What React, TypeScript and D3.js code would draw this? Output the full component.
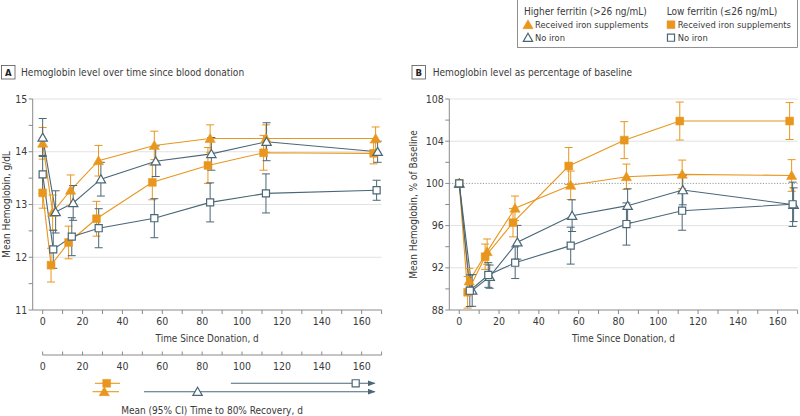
import React from "react";
import * as d3 from "d3";

// ---------- data ----------
const hfIronDays = [0, 5, 14, 28, 56, 84, 112, 167];
const hfNoIronDays = [0, 6.5, 15.3, 29.2, 56.7, 84.6, 112.3, 168];
const lfIronDays = [0, 4.2, 13, 27, 55, 82.9, 110.8, 166];
const lfNoIronDays = [0, 5.3, 14.6, 28.1, 56, 84, 112, 167.5];

// Panel A: hemoglobin g/dL (mean, half-width of 95% CI)
const aHfIron = [14.16, 12.85, 13.27, 13.83, 14.12, 14.25, 14.25, 14.25];
const aHfIronCi = [0.3, 0.33, 0.29, 0.29, 0.27, 0.26, 0.26, 0.22];
const aHfNoIron = [14.27, 12.86, 13.03, 13.48, 13.82, 13.96, 14.19, 14.0];
const aHfNoIronCi = [0.36, 0.4, 0.33, 0.32, 0.29, 0.31, 0.36, 0.2];
const aLfIron = [13.22, 11.85, 12.28, 12.73, 13.42, 13.74, 13.98, 13.97];
const aLfIronCi = [0.29, 0.32, 0.31, 0.33, 0.33, 0.34, 0.33, 0.2];
const aLfNoIron = [13.57, 12.15, 12.39, 12.55, 12.74, 13.04, 13.21, 13.27];
const aLfNoIronCi = [0.36, 0.36, 0.36, 0.37, 0.37, 0.37, 0.37, 0.19];

// Panel B: % of baseline
const bHfIron = [100, 90.75, 93.53, 97.64, 99.82, 100.63, 100.86, 100.75];
const bHfIronCi = [0, 1.2, 1.2, 1.16, 1.35, 1.2, 1.35, 1.5];
const bHfNoIron = [100, 89.85, 91.16, 94.42, 96.94, 97.89, 99.37, 97.98];
const bHfNoIronCi = [0, 1.5, 1.1, 1.6, 1.5, 1.6, 1.4, 1.6];
const bLfIron = [100, 89.68, 93.05, 96.28, 101.65, 104.1, 105.91, 105.91];
const bLfIronCi = [0, 1.5, 1.2, 1.35, 1.75, 1.75, 1.8, 1.75];
const bLfNoIron = [100, 89.83, 91.32, 92.48, 94.1, 96.15, 97.41, 98.02];
const bLfNoIronCi = [0, 1.5, 1.17, 1.5, 1.75, 2.0, 1.85, 2.1];

// Time to 80% recovery: [mean, lower, upper]
const recLfIron = [32.1, 26.2, 38.8];
const recHfIron = [30.9, 25, 38.3];
const recLfNoIron = [157, 94.4, 166.5];
const recHfNoIron = [77.7, 50.8, 166.5];

const xTicksMajor = [0, 20, 40, 60, 80, 100, 120, 140, 160];
const xTicksMinor = [0, 10, 20, 30, 40, 50, 60, 70, 80, 90, 100, 110, 120, 130, 140, 150, 160, 170];
const aYMajor = [11, 12, 13, 14, 15];
const aYMinor = [11.5, 12.5, 13.5, 14.5];
const bYMajor = [88, 92, 96, 100, 104, 108];
const bYMinor = [90, 94, 98, 102, 106];

const ORANGE = "#E8961E";
const BLUE = "#4A6777";
const FONT = "'Liberation Sans Narrow','DejaVu Sans Condensed',Roboto,'Noto Sans',sans-serif";
const TXT = "#3a3a3a";
const AX = "#8a8a8a";

type Series = { days: number[]; vals: number[]; ci: number[]; color: string; shape: "tri" | "sq"; filled: boolean };

function Marker({ x, y, shape, filled, color }: { x: number; y: number; shape: string; filled: boolean; color: string }) {
  const sym = shape === "tri" ? d3.symbol(d3.symbolTriangle, filled ? 46 : 38) : d3.symbol(d3.symbolSquare, filled ? 62 : 50);
  const dy = shape === "tri" ? 1 : 0;
  return (
    <path
      d={sym() as string}
      transform={`translate(${x},${y + dy})`}
      fill={filled ? color : "#fff"}
      stroke={color}
      strokeWidth={filled ? 0.5 : 1.2}
    />
  );
}

function Panel({
  x0, x1, yDomain, yMajor, yMinor, series, dotted, yTitle, label, title, labelX, titleX, labelMid, fmt,
}: {
  x0: number; x1: number; yDomain: [number, number]; yMajor: number[]; yMinor: number[]; series: Series[];
  dotted?: number; yTitle: string; label: string; title: string; labelX: number; titleX: number; labelMid: number; fmt: (v: number) => string;
}) {
  const x = d3.scaleLinear().domain([-5, 170]).range([x0, x1]);
  const y = d3.scaleLinear().domain(yDomain).range([310, 99]);
  const line = d3.line<[number, number]>().x((d) => x(d[0])).y((d) => y(d[1]));
  return (
    <g>
      {/* panel label */}
      <rect x={labelX} y={65.5} width={13.5} height={13.5} fill="#fff" stroke="#555" strokeWidth={0.8} />
      <text x={labelX + 6.75} y={75.8} textAnchor="middle" fontSize={9.5} fontWeight="bold" fill="#222" fontFamily={FONT}>{label}</text>
      <text x={titleX} y={75.8} fontSize={10.1} fill={TXT} fontFamily={FONT}>{title}</text>
      {/* gridlines */}
      {yMajor.filter((v) => v !== yDomain[0] && v !== dotted).map((v) => (
        <line key={"g" + v} x1={x(-5)} x2={x(170)} y1={y(v)} y2={y(v)} stroke="#e2e2e2" strokeWidth={1} />
      ))}
      {dotted !== undefined && (
        <line x1={x(-5)} x2={x(170)} y1={y(dotted)} y2={y(dotted)} stroke="#9a9a9a" strokeWidth={1} strokeDasharray="1.2,1.6" />
      )}
      {/* axes */}
      <line x1={x(-5)} x2={x(-5)} y1={y(yDomain[1])} y2={310} stroke={AX} strokeWidth={1} />
      <line x1={x(-5)} x2={x(170)} y1={310} y2={310} stroke={AX} strokeWidth={1} />
      {yMajor.concat(yMinor).map((v) => (
        <line key={"yt" + v} x1={x(-5) - 4} x2={x(-5)} y1={y(v)} y2={y(v)} stroke={AX} strokeWidth={1} />
      ))}
      {yMajor.map((v) => (
        <text key={"yl" + v} x={x(-5) - 5.5} y={y(v) + 3.6} textAnchor="end" fontSize={10.5} fill={TXT} fontFamily={FONT}>{fmt(v)}</text>
      ))}
      {xTicksMinor.map((v) => (
        <line key={"xt" + v} x1={x(v)} x2={x(v)} y1={310} y2={314} stroke={AX} strokeWidth={1} />
      ))}
      {xTicksMajor.map((v) => (
        <text key={"xl" + v} x={x(v)} y={325} textAnchor="middle" fontSize={10.5} fill={TXT} fontFamily={FONT}>{v}</text>
      ))}
      <text x={(x(-5) + x(170)) / 2} y={341.5} textAnchor="middle" fontSize={9.9} fill={TXT} fontFamily={FONT}>Time Since Donation, d</text>
      <text transform={`translate(${labelMid},${(99 + 310) / 2}) rotate(-90)`} textAnchor="middle" fontSize={10} fill={TXT} fontFamily={FONT}>{yTitle}</text>
      {/* lines */}
      {series.map((s, i) => (
        <path key={"l" + i} d={line(s.days.map((d, j) => [d, s.vals[j]] as [number, number])) as string} fill="none" stroke={s.color} strokeWidth={1.1} />
      ))}
      {/* error bars */}
      {series.map((s, i) => (
        <g key={"e" + i}>
          {s.days.map((d, j) =>
            s.ci[j] > 0 ? (
              <g key={j} stroke={s.color} strokeWidth={1}>
                <line x1={x(d)} x2={x(d)} y1={y(s.vals[j] - s.ci[j])} y2={y(s.vals[j] + s.ci[j])} />
                <line x1={x(d) - 4} x2={x(d) + 4} y1={y(s.vals[j] - s.ci[j])} y2={y(s.vals[j] - s.ci[j])} />
                <line x1={x(d) - 4} x2={x(d) + 4} y1={y(s.vals[j] + s.ci[j])} y2={y(s.vals[j] + s.ci[j])} />
              </g>
            ) : null
          )}
        </g>
      ))}
      {/* markers */}
      {series.map((s, i) => (
        <g key={"m" + i}>
          {s.days.map((d, j) => (
            <Marker key={j} x={x(d)} y={y(s.vals[j])} shape={s.shape} filled={s.filled} color={s.color} />
          ))}
        </g>
      ))}
    </g>
  );
}

export default function App() {
  const seriesA: Series[] = [
    { days: hfIronDays, vals: aHfIron, ci: aHfIronCi, color: ORANGE, shape: "tri", filled: true },
    { days: lfIronDays, vals: aLfIron, ci: aLfIronCi, color: ORANGE, shape: "sq", filled: true },
    { days: hfNoIronDays, vals: aHfNoIron, ci: aHfNoIronCi, color: BLUE, shape: "tri", filled: false },
    { days: lfNoIronDays, vals: aLfNoIron, ci: aLfNoIronCi, color: BLUE, shape: "sq", filled: false },
  ];
  const seriesB: Series[] = [
    { days: hfIronDays, vals: bHfIron, ci: bHfIronCi, color: ORANGE, shape: "tri", filled: true },
    { days: lfIronDays, vals: bLfIron, ci: bLfIronCi, color: ORANGE, shape: "sq", filled: true },
    { days: hfNoIronDays, vals: bHfNoIron, ci: bHfNoIronCi, color: BLUE, shape: "tri", filled: false },
    { days: lfNoIronDays, vals: bLfNoIron, ci: bLfNoIronCi, color: BLUE, shape: "sq", filled: false },
  ];
  const xr = d3.scaleLinear().domain([-5, 170]).range([32.7, 381.6]);
  const recRows = [
    { r: recLfIron, color: ORANGE, shape: "sq", filled: true, y: 383.3, open: false },
    { r: recHfIron, color: ORANGE, shape: "tri", filled: true, y: 391.7, open: false },
    { r: recLfNoIron, color: BLUE, shape: "sq", filled: false, y: 383.3, open: true },
    { r: recHfNoIron, color: BLUE, shape: "tri", filled: false, y: 391.7, open: true },
  ];
  return (
    <svg width={800} height={416} style={{ position: "absolute", left: 0, top: 0, background: "#fff" }}>
      <defs>
        <marker id="arrow" viewBox="0 0 8 6" refX={7} refY={3} markerWidth={8} markerHeight={6} markerUnits="userSpaceOnUse" orient="auto">
          <path d="M0,0 L8,3 L0,6 z" fill={BLUE} />
        </marker>
      </defs>
      <rect x={0} y={0} width={800} height={416} fill="#fff" />
      <Panel x0={32.7} x1={381.6} yDomain={[11, 15]} yMajor={aYMajor} yMinor={aYMinor} series={seriesA}
        yTitle="Mean Hemoglobin, g/dL" label="A" title="Hemoglobin level over time since blood donation"
        labelX={1.5} titleX={21} labelMid={10} fmt={(v) => String(v)} />
      <Panel x0={449.3} x1={797.6} yDomain={[88, 108]} yMajor={bYMajor} yMinor={bYMinor} series={seriesB} dotted={100}
        yTitle="Mean Hemoglobin, % of Baseline" label="B" title="Hemoglobin level as percentage of baseline"
        labelX={412} titleX={432.7} labelMid={417} fmt={(v) => String(v)} />

      {/* recovery axis */}
      <line x1={xr(0)} x2={xr(170)} y1={355} y2={355} stroke={AX} strokeWidth={1} />
      {xTicksMinor.map((v) => (
        <line key={"rt" + v} x1={xr(v)} x2={xr(v)} y1={351.5} y2={355} stroke={AX} strokeWidth={1} />
      ))}
      {xTicksMajor.map((v) => (
        <text key={"rl" + v} x={xr(v)} y={369.5} textAnchor="middle" fontSize={10.5} fill={TXT} fontFamily={FONT}>{v}</text>
      ))}
      {recRows.map((row, i) => (
        <g key={"rec" + i}>
          <line x1={xr(row.r[1])} x2={xr(row.r[2])} y1={row.y} y2={row.y} stroke={row.color} strokeWidth={1.1}
            markerEnd={row.open ? "url(#arrow)" : undefined} />
          <Marker x={xr(row.r[0])} y={row.y} shape={row.shape} filled={row.filled} color={row.color} />
        </g>
      ))}
      <text x={212} y={414} textAnchor="middle" fontSize={10} fill={TXT} fontFamily={FONT}>Mean (95% CI) Time to 80% Recovery, d</text>

      {/* legend */}
      <rect x={517.5} y={-1} width={280} height={48.5} fill="#fff" stroke="#777" strokeWidth={0.8} />
      <text x={524} y={15} fontSize={10} fill={TXT} fontFamily={FONT}>Higher ferritin (&gt;26 ng/mL)</text>
      <Marker x={528} y={24.7} shape="tri" filled={true} color={ORANGE} />
      <text x={535} y={28.2} fontSize={9.3} fill={TXT} fontFamily={FONT}>Received iron supplements</text>
      <Marker x={528} y={37.7} shape="tri" filled={false} color={BLUE} />
      <text x={535} y={41.2} fontSize={9.3} fill={TXT} fontFamily={FONT}>No iron</text>
      <text x={666.7} y={15} fontSize={10} fill={TXT} fontFamily={FONT}>Low ferritin (≤26 ng/mL)</text>
      <Marker x={671} y={24.7} shape="sq" filled={true} color={ORANGE} />
      <text x={677.7} y={28.2} fontSize={9.3} fill={TXT} fontFamily={FONT}>Received iron supplements</text>
      <Marker x={671} y={37.7} shape="sq" filled={false} color={BLUE} />
      <text x={677.7} y={41.2} fontSize={9.3} fill={TXT} fontFamily={FONT}>No iron</text>
    </svg>
  );
}
